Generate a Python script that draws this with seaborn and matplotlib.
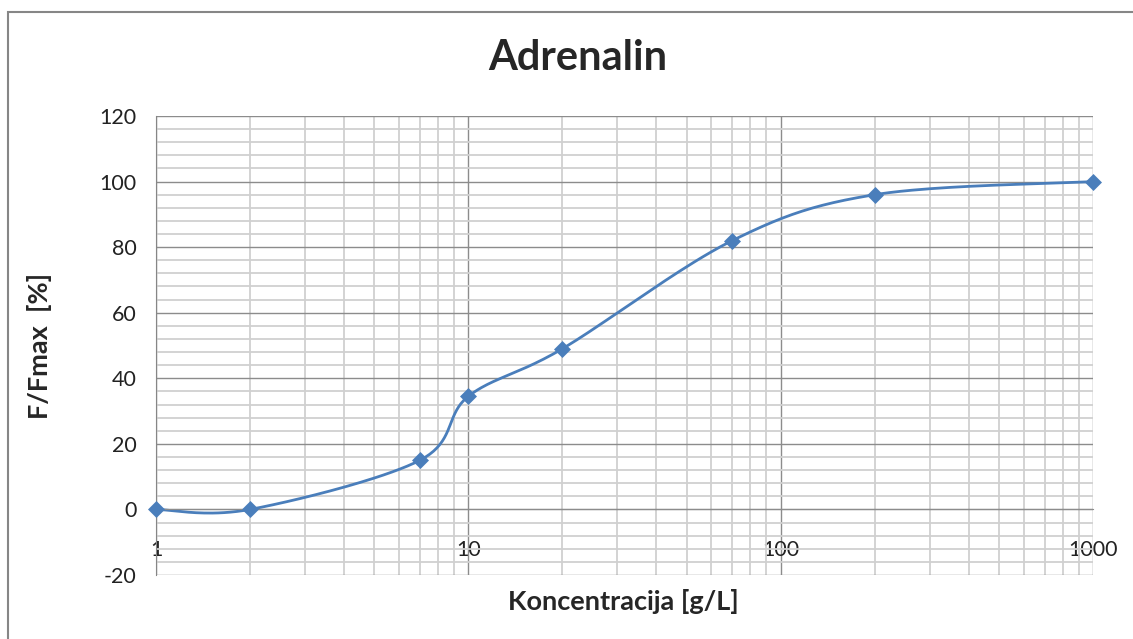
import numpy as np
import matplotlib
matplotlib.use("Agg")
import matplotlib.pyplot as plt
from matplotlib.ticker import FixedLocator, MultipleLocator, NullFormatter
import seaborn as sns

# data
konc = [1, 2, 7, 10, 20, 70, 200, 1000]
f_rel = [0, 0, 15, 34.5, 49, 82, 96, 100]
x_labels = ["1", "10", "100", "1000"]

line_col = "#4a7ebb"


def smooth_curve(xv, yv, n=40):
    # Excel style smoothed line: Catmull-Rom Bezier in log-x space
    p = np.column_stack([np.log10(xv), yv])
    out = []
    for i in range(len(p) - 1):
        p0 = p[i - 1] if i > 0 else p[i]
        p3 = p[i + 2] if i + 2 < len(p) else p[i + 1]
        c1 = p[i] + (p[i + 1] - p0) / 6
        c2 = p[i + 1] - (p3 - p[i]) / 6
        t = np.linspace(0, 1, n)[:, None]
        seg = ((1 - t) ** 3 * p[i] + 3 * (1 - t) ** 2 * t * c1
               + 3 * (1 - t) * t ** 2 * c2 + t ** 3 * p[i + 1])
        out.append(seg if i == 0 else seg[1:])
    out = np.vstack(out)
    return 10 ** out[:, 0], out[:, 1]


sns.set_style("white")
plt.rcParams["font.family"] = ["Lato", "DejaVu Sans"]
plt.rcParams["axes.unicode_minus"] = False

fig = plt.figure(figsize=(11.33, 6.39), dpi=100)
ax = fig.add_axes([156 / 1133, 64 / 639, 937 / 1133, 459 / 639])

sx, sy = smooth_curve(konc, f_rel)
sns.lineplot(x=sx, y=sy, sort=False, estimator=None, color=line_col, lw=2, ax=ax)
sns.scatterplot(x=konc, y=f_rel, marker="D", s=75, color=line_col,
                edgecolor=line_col, linewidth=0, ax=ax, zorder=5, clip_on=False)

ax.set_xscale("log")
ax.set_xlim(1, 1000)
ax.set_ylim(-20, 120)
ax.yaxis.set_major_locator(MultipleLocator(20))
ax.yaxis.set_minor_locator(MultipleLocator(4))
ax.xaxis.set_major_locator(FixedLocator([1, 10, 100, 1000]))
ax.set_xticklabels(x_labels)
ax.xaxis.set_minor_formatter(NullFormatter())

ax.grid(which="major", color="#8c8c8c", lw=1)
ax.grid(which="minor", color="#d0d0d0", lw=1.3)
ax.set_axisbelow(True)

for s in ["top", "right"]:
    ax.spines[s].set_visible(False)
ax.spines["left"].set_color("#868686")
ax.spines["bottom"].set_position(("data", 0))
ax.spines["bottom"].set_color("#8c8c8c")

ax.tick_params(axis="y", which="major", direction="out", length=8,
               color="#868686", labelsize=15.5, pad=6, labelcolor="#222222")
ax.tick_params(axis="y", which="minor", length=0)
ax.tick_params(axis="x", which="both", length=0, labelsize=15.5, pad=22,
               labelcolor="#222222")

fig.text(578 / 1133, 1 - 58 / 639, "Adrenalin", ha="center", va="center",
         fontsize=30, fontweight="bold")
fig.text(623 / 1133, 1 - 601 / 639, "Koncentracija [g/L]", ha="center",
         va="center", fontsize=19.5, fontweight="bold")
fig.text(40 / 1133, 1 - 346 / 639, "F/Fmax  [%]", ha="center", va="center",
         rotation=90, fontsize=19.5, fontweight="bold")

# chart area border
fig.patches.append(plt.Rectangle((8 / 1133, -0.1), 1.2, 1.1 - 12 / 639,
                                 transform=fig.transFigure, fill=False,
                                 edgecolor="#868686", lw=1.5))

fig.savefig("out.png", dpi=100)
